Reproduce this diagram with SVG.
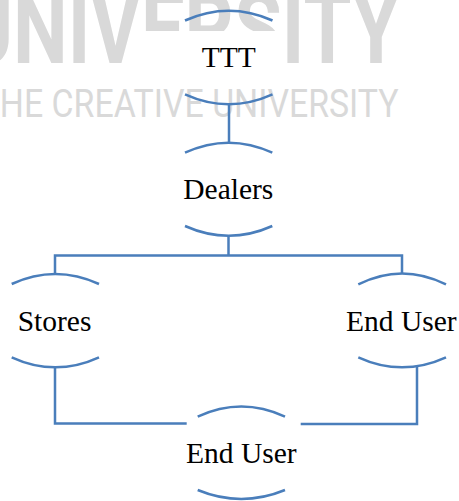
<svg xmlns="http://www.w3.org/2000/svg" width="459" height="501" viewBox="0 0 459 501">
  <style>
    .wm1 { font-family: Roboto, "Liberation Sans", sans-serif; font-weight: bold; font-size: 100px; fill: #d9d9d9; }
    .wm2 { font-family: Roboto, "Liberation Sans", sans-serif; font-size: 38px; fill: #d9d9d9; }
    .arc { fill: none; stroke: #4a7ebb; stroke-width: 2.5; }
    .conn { fill: none; stroke: #4a7ebb; stroke-width: 2.5; }
    .lbl { font-family: 'Liberation Serif', 'Times New Roman', 'DejaVu Serif', serif; font-size: 29.5px; fill: #000000; text-anchor: middle; }
  </style>
  <rect width="459" height="501" fill="#ffffff"/>
  <g id="watermark">
    <text class="wm1" x="-38" y="63" textLength="438" lengthAdjust="spacingAndGlyphs">UNIVERSITY</text>
    <rect x="143" y="31" width="143" height="40" fill="#ffffff"/>
    <text class="wm2" x="-20.4" y="117" textLength="419" lengthAdjust="spacingAndGlyphs">THE CREATIVE UNIVERSITY</text>
  </g>
  <g id="connectors">
    <path class="conn" d="M229,104.3 V142.7"/>
    <path class="conn" d="M228.5,235.7 V255.5"/>
    <path class="conn" d="M55,274 V255.5 H402 V273.3"/>
    <path class="conn" d="M55,367.3 V423.5 H186.7"/>
    <path class="conn" d="M417,366 V424 H300.7"/>
  </g>
  <g id="node-ttt">
    <path class="arc" d="M185,20.5 Q228.75,1 272.5,20.5"/>
    <path class="arc" d="M185,94.3 Q228.75,114 272.5,94.3"/>
    <text class="lbl" font-family="Liberation Serif, serif" x="228.7" y="67">TTT</text>
  </g>
  <g id="node-dealers">
    <path class="arc" d="M185,152.7 Q228.7,132.7 272.3,152.7"/>
    <path class="arc" d="M185,226 Q228.7,245.5 272.3,226"/>
    <text class="lbl" font-family="Liberation Serif, serif" x="228.3" y="199">Dealers</text>
  </g>
  <g id="node-stores">
    <path class="arc" d="M11.7,284 Q55.3,264 99,284"/>
    <path class="arc" d="M11.7,357.3 Q55.3,377.3 99,357.3"/>
    <text class="lbl" font-family="Liberation Serif, serif" x="54.5" y="330.7">Stores</text>
  </g>
  <g id="node-enduser-right">
    <path class="arc" d="M358.3,284.3 Q402,262.5 446,284.3"/>
    <path class="arc" d="M358.3,357.3 Q402,377.3 446,357.3"/>
    <text class="lbl" font-family="Liberation Serif, serif" x="401.3" y="331">End User</text>
  </g>
  <g id="node-enduser-bottom">
    <path class="arc" d="M197.7,416.7 Q241.3,396.5 285,416.7"/>
    <path class="arc" d="M197.7,490 Q241.3,508 285,490"/>
    <text class="lbl" font-family="Liberation Serif, serif" x="241.3" y="462.7">End User</text>
  </g>
</svg>
